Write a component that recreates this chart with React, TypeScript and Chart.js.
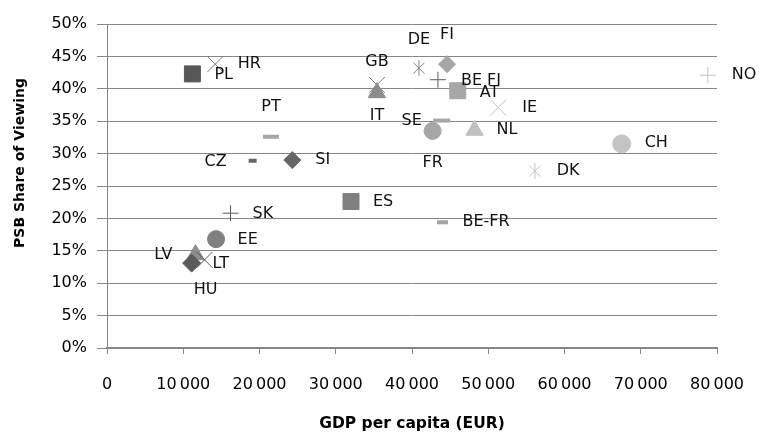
import { useEffect, useRef } from 'react';
import { Chart, registerables } from 'chart.js';

Chart.register(...registerables);

// Broadcaster data: GDP per capita (EUR) vs. public service broadcaster share of viewing (%)
const COUNTRIES = ['PL', 'HR', 'GB', 'IT', 'DE', 'FI', 'BE FI', 'AT', 'SE', 'FR', 'NL', 'IE', 'CH', 'DK', 'BE-FR', 'PT', 'CZ', 'SI', 'ES', 'SK', 'EE', 'LV', 'HU', 'LT', 'NO'];
const GDP_PER_CAPITA = [11200, 14200, 35400, 35400, 40900, 44600, 43400, 46000, 43900, 42700, 48200, 51300, 67500, 56100, 44000, 21500, 19100, 24300, 32000, 16200, 14300, 11600, 11100, 12800, 78800];
const PSB_SHARE = [42.3, 43.8, 40.6, 39.4, 43.2, 43.8, 41.4, 39.7, 35.1, 33.5, 33.6, 37.1, 31.5, 27.3, 19.4, 32.6, 28.9, 29.0, 22.6, 20.8, 16.8, 14.4, 13.1, 13.6, 42.1];

const X_TICK_VALUES = [0, 10000, 20000, 30000, 40000, 50000, 60000, 70000, 80000];
const Y_TICK_VALUES = [0, 5, 10, 15, 20, 25, 30, 35, 40, 45, 50];

const X_TITLE = 'GDP per capita (EUR)';
const Y_TITLE = 'PSB Share of Viewing';

// Marker appearance per country
const MARKERS = ['rect', 'crossRot', 'crossRot', 'triangle', 'asterisk', 'rectRot', 'cross', 'rect', 'line', 'circle', 'triangle', 'crossRot', 'circle', 'asterisk', 'line', 'line', 'line', 'rectRot', 'rect', 'cross', 'circle', 'triangle', 'rectRot', 'crossRot', 'cross'];
const SHADES = ['#575757', '#7a7a7a', '#808080', '#8c8c8c', '#808080', '#a6a6a6', '#5a5a5a', '#a6a6a6', '#a6a6a6', '#a6a6a6', '#c0c0c0', '#c0c0c0', '#c4c4c4', '#c0c0c0', '#a6a6a6', '#a6a6a6', '#666666', '#666666', '#808080', '#5a5a5a', '#808080', '#8c8c8c', '#5a5a5a', '#5a5a5a', '#c0c0c0'];
const MARKER_RADII = [11.3, 11.3, 11.3, 10, 9, 8.5, 8, 11.3, 8.5, 8.5, 10, 11.3, 9, 9, 5.5, 8, 4, 8.5, 11.3, 8, 8.5, 10, 9, 11.3, 8];

// Label placement: side ('r' right of marker, 'l' left, 'c' centred), x offset, y offset
const LABEL_PLACEMENT: [string, number, number][] = [
  ['r', 22, 1], ['r', 22.5, 0], ['c', 0, -23], ['c', 0, 23], ['c', 0, -28], ['c', 0, -29],
  ['r', 23, 1], ['r', 22, 2.5], ['l', 20, 0.5], ['c', 0, 32], ['r', 22, 0], ['r', 24, 0.5],
  ['r', 23, -1], ['r', 22, 0], ['r', 20, 0], ['c', 0, -30], ['l', 26, 1], ['r', 23, 0],
  ['r', 22, 0.5], ['r', 22, 1], ['r', 21.5, 1], ['l', 23, 0], ['c', 14, 27], ['r', 8, 4], ['r', 24, 0],
];

const GRID = '#868686';
const LABEL_FONT = '16px "DejaVu Sans"';
const TICK_FONT = { family: 'DejaVu Sans', size: 16 };

function asteriskImage(color: string): HTMLCanvasElement {
  const c = document.createElement('canvas');
  c.width = 18;
  c.height = 18;
  const g = c.getContext('2d')!;
  g.strokeStyle = color;
  g.lineWidth = 1;
  g.beginPath();
  g.moveTo(9, 1);
  g.lineTo(9, 17);
  g.moveTo(3.5, 3.5);
  g.lineTo(14.5, 14.5);
  g.moveTo(14.5, 3.5);
  g.lineTo(3.5, 14.5);
  g.stroke();
  return c;
}

function formatThousands(v: number): string {
  return String(v).replace(/\B(?=(\d{3})+(?!\d))/g, '\u2009');
}

const pointLabels = {
  id: 'pointLabels',
  afterDatasetsDraw(chart: any) {
    const ctx = chart.ctx;
    const meta = chart.getDatasetMeta(0);
    ctx.save();
    ctx.font = LABEL_FONT;
    ctx.fillStyle = '#111';
    ctx.textBaseline = 'middle';
    meta.data.forEach((pt: any, i: number) => {
      const [side, dx, dy] = LABEL_PLACEMENT[i];
      let x = pt.x;
      if (side === 'r') {
        ctx.textAlign = 'left';
        x = pt.x + dx;
      } else if (side === 'l') {
        ctx.textAlign = 'right';
        x = pt.x - dx;
      } else {
        ctx.textAlign = 'center';
        x = pt.x + dx;
      }
      ctx.fillText(COUNTRIES[i], x, pt.y + dy);
    });
    ctx.restore();
  },
};

const axisTitles = {
  id: 'axisTitles',
  afterDraw(chart: any) {
    const ctx = chart.ctx;
    const area = chart.chartArea;
    ctx.save();
    ctx.fillStyle = '#000';
    ctx.textAlign = 'center';
    ctx.textBaseline = 'middle';
    ctx.font = 'bold 15.5px "DejaVu Sans"';
    ctx.fillText(X_TITLE, (area.left + area.right) / 2, 424);
    ctx.translate(20, 163);
    ctx.rotate(-Math.PI / 2);
    ctx.font = 'bold 14px "DejaVu Sans"';
    ctx.fillText(Y_TITLE, 0, 0);
    ctx.restore();
  },
};

export default function App() {
  const canvasRef = useRef<HTMLCanvasElement | null>(null);

  useEffect(() => {
    const canvas = canvasRef.current;
    if (!canvas) return;

    const styles = MARKERS.map((m, i) => (m === 'asterisk' ? asteriskImage(SHADES[i]) : m));
    const points = GDP_PER_CAPITA.map((x, i) => ({ x, y: PSB_SHARE[i] }));

    const chart = new Chart(canvas, {
      type: 'scatter',
      data: {
        datasets: [
          {
            data: points,
            pointStyle: styles as any,
            pointRadius: MARKER_RADII,
            pointHoverRadius: MARKER_RADII,
            backgroundColor: SHADES,
            borderColor: SHADES,
            borderWidth: MARKERS.map((m) => (m === 'line' ? 4 : 1)),
          },
        ],
      },
      options: {
        responsive: false,
        animation: false,
        devicePixelRatio: 1,
        layout: { padding: { top: 24, right: 42, left: 0, bottom: 0 } },
        plugins: {
          legend: { display: false },
          tooltip: { enabled: false },
        },
        scales: {
          x: {
            type: 'linear',
            min: 0,
            max: 80000,
            afterBuildTicks: (scale: any) => {
              scale.ticks = X_TICK_VALUES.map((value) => ({ value }));
            },
            afterFit: (scale: any) => {
              scale.height = 86;
              scale.paddingLeft = 0;
              scale.paddingRight = 0;
            },
            grid: {
              drawOnChartArea: false,
              drawTicks: true,
              tickLength: 6,
              color: GRID,
            },
            border: { display: true, color: GRID, width: 2 },
            ticks: {
              padding: 21,
              color: '#000',
              font: TICK_FONT,
              maxRotation: 0,
              autoSkip: false,
              callback: (v: any) => formatThousands(Number(v)),
            },
          },
          y: {
            type: 'linear',
            min: 0,
            max: 50,
            afterBuildTicks: (scale: any) => {
              scale.ticks = Y_TICK_VALUES.map((value) => ({ value }));
            },
            afterFit: (scale: any) => {
              scale.width = 107;
            },
            grid: {
              drawOnChartArea: true,
              drawTicks: true,
              tickLength: 10,
              color: GRID,
              lineWidth: 1,
            },
            border: { display: true, color: GRID, width: 1 },
            ticks: {
              padding: 10,
              color: '#000',
              font: TICK_FONT,
              autoSkip: false,
              callback: (v: any) => `${v}%`,
            },
          },
        },
      },
      plugins: [pointLabels, axisTitles],
    });

    return () => chart.destroy();
  }, []);

  return (
    <div style={{ position: 'fixed', left: 0, top: 0, width: 759, height: 434, background: '#fff' }}>
      <canvas ref={canvasRef} width={759} height={434} style={{ display: 'block' }} />
    </div>
  );
}
